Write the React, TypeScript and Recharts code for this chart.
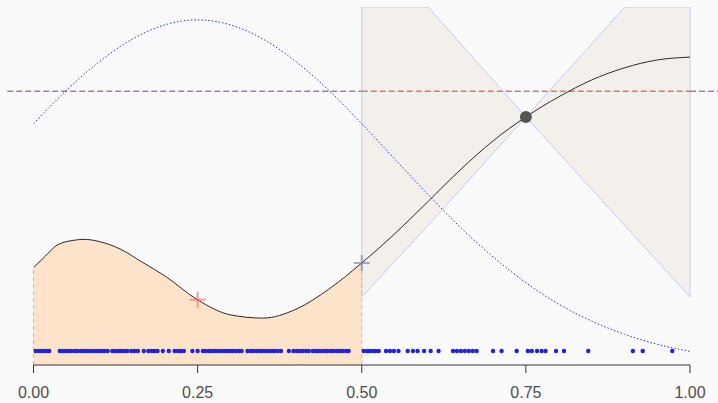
import React from 'react';
import {
  ComposedChart,
  Area,
  Line,
  Scatter,
  XAxis,
  YAxis,
  ReferenceLine
} from 'recharts';

// tick positions on the x axis
const xTicks = [0, 0.25, 0.5, 0.75, 1];

// fitted curve (black)
const curveX = [0, 0.018, 0.036, 0.06, 0.077, 0.1, 0.133, 0.165, 0.2, 0.25, 0.3, 0.35, 0.4, 0.45, 0.5, 0.55, 0.6, 0.65, 0.7, 0.75, 0.8, 0.85, 0.9, 0.95, 1];
const curveY = [0.272, 0.304, 0.335, 0.348, 0.351, 0.345, 0.323, 0.288, 0.249, 0.182, 0.14, 0.131, 0.156, 0.212, 0.285, 0.366, 0.455, 0.545, 0.626, 0.693, 0.749, 0.796, 0.83, 0.852, 0.86];

// blue dotted density curve
const densX = [0, 0.05, 0.1, 0.15, 0.2, 0.25, 0.3, 0.35, 0.4, 0.45, 0.5, 0.55, 0.6, 0.65, 0.7, 0.75, 0.8, 0.85, 0.9, 0.95, 1];
const densY = [0.674, 0.767, 0.847, 0.91, 0.95, 0.964, 0.95, 0.91, 0.847, 0.767, 0.674, 0.576, 0.478, 0.385, 0.302, 0.23, 0.17, 0.123, 0.086, 0.058, 0.038];

// cone band (grey)
const bandX = [0.5, 0.601, 0.75, 0.901, 1];
const bandLow = [0.19, 0.39, 0.693, 0.389, 0.19];
const bandHigh = [1, 1, 0.693, 1, 1];

// rug of observations
const rugX = [
  0.003, 0.008, 0.012, 0.017, 0.02, 0.024, 0.04, 0.044, 0.049, 0.053, 0.058, 0.063, 0.067,
  0.072, 0.076, 0.081, 0.085, 0.09, 0.095, 0.099, 0.104, 0.108, 0.113, 0.12, 0.125, 0.13,
  0.134, 0.139, 0.143, 0.149, 0.154, 0.159, 0.168, 0.175, 0.18, 0.184, 0.189, 0.197, 0.206,
  0.215, 0.22, 0.224, 0.229, 0.242, 0.25, 0.258, 0.262, 0.267, 0.271, 0.276, 0.28, 0.285,
  0.29, 0.294, 0.299, 0.303, 0.308, 0.313, 0.317, 0.326, 0.331, 0.335, 0.34, 0.345, 0.349,
  0.354, 0.358, 0.363, 0.367, 0.372, 0.377, 0.389, 0.396, 0.401, 0.405, 0.41, 0.415, 0.419,
  0.425, 0.43, 0.434, 0.439, 0.444, 0.448, 0.453, 0.457, 0.462, 0.466, 0.471, 0.476, 0.48,
  0.503, 0.508, 0.512, 0.517, 0.521, 0.526, 0.537, 0.543, 0.549, 0.556, 0.57, 0.578, 0.585,
  0.595, 0.605, 0.617, 0.639, 0.645, 0.651, 0.657, 0.663, 0.669, 0.675, 0.7, 0.713, 0.736,
  0.753, 0.759, 0.767, 0.774, 0.78, 0.796, 0.808, 0.845, 0.913, 0.928, 0.973
];
const rugLevel = 0.039;

// single marks
const hLevel = 0.765;
const centerPoint = [{ x: 0.75, y: 0.693 }];
const redCross = [{ x: 0.25, y: 0.182 }];
const greyCross = [{ x: 0.5, y: 0.285 }];

const curveData = curveX.map((x, i) => ({ x, y: curveY[i] }));
const shadeData = curveData.filter((d) => d.x <= 0.5);
const densData = densX.map((x, i) => ({ x, y: densY[i] }));
const bandData = bandX.map((x, i) => ({ x, range: [bandLow[i], bandHigh[i]] }));
const rugData = rugX.map((x) => ({ x, y: rugLevel }));

const makeCross = (color: string) => (props: any) => {
  const { cx, cy } = props;
  return (
    <g>
      <line x1={cx - 8} y1={cy} x2={cx + 8} y2={cy} stroke={color} strokeWidth={2} />
      <line x1={cx} y1={cy - 8} x2={cx} y2={cy + 8} stroke={color} strokeWidth={2} />
    </g>
  );
};

const RugDot = (props: any) => <circle cx={props.cx} cy={props.cy} r={2.2} fill="#1f1fe6" />;
const BigDot = (props: any) => <circle cx={props.cx} cy={props.cy} r={6} fill="#555555" />;

const App: React.FC = () => {
  return (
    <div style={{ position: 'absolute', left: 0, top: 0, width: 718, height: 403, background: '#fafafa' }}>
      <ComposedChart
        width={718}
        height={403}
        margin={{ top: 7, right: 28, bottom: 0, left: 33.5 }}
      >
        <XAxis
          dataKey="x"
          type="number"
          domain={[0, 1]}
          ticks={xTicks}
          interval={0}
          allowDataOverflow
          tickFormatter={(v) => v.toFixed(2)}
          axisLine={{ stroke: '#333333' }}
          tickLine={{ stroke: '#333333' }}
          tickSize={8}
          tickMargin={14}
          height={38}
          tick={{ fill: '#4d4d4d', fontSize: 16, fontFamily: 'Liberation Sans, Arial, sans-serif' }}
        />
        <YAxis dataKey="y" type="number" domain={[0, 1]} allowDataOverflow hide />

        <Area
          data={bandData}
          dataKey="range"
          type="linear"
          fill="#f3f0ec"
          fillOpacity={1}
          stroke="#c9c9f2"
          strokeWidth={1}
          isAnimationActive={false}
        />
        <ReferenceLine segment={[{ x: 0.5, y: bandLow[0] }, { x: 0.5, y: 1 }]} stroke="#c9c9f2" strokeWidth={1} />
        <ReferenceLine segment={[{ x: 1, y: bandLow[4] }, { x: 1, y: 1 }]} stroke="#c9c9f2" strokeWidth={1} />

        <Area
          data={shadeData}
          dataKey="y"
          type="monotone"
          baseValue={0}
          fill="#fee3cb"
          fillOpacity={1}
          stroke="none"
          isAnimationActive={false}
        />
        <ReferenceLine segment={[{ x: 0, y: 0 }, { x: 0, y: curveY[0] }]} stroke="#f3a5a5" strokeDasharray="4 3" />
        <ReferenceLine segment={[{ x: 0.5, y: 0 }, { x: 0.5, y: greyCross[0].y }]} stroke="#f3a5a5" strokeDasharray="4 3" />

        <ReferenceLine
          segment={[{ x: -0.04, y: hLevel }, { x: 0.5, y: hLevel }]}
          ifOverflow="visible"
          stroke="#9a7fae"
          strokeWidth={1.5}
          strokeDasharray="6 3"
        />
        <ReferenceLine
          segment={[{ x: 0.5, y: hLevel }, { x: 1, y: hLevel }]}
          stroke="#d9796c"
          strokeWidth={1.5}
          strokeDasharray="6 3"
        />
        <ReferenceLine
          segment={[{ x: 1, y: hLevel }, { x: 1.05, y: hLevel }]}
          ifOverflow="visible"
          stroke="#9a7fae"
          strokeWidth={1.5}
          strokeDasharray="6 3"
        />

        <Line
          data={densData}
          dataKey="y"
          type="monotone"
          stroke="#2b2bf0"
          strokeWidth={1}
          strokeDasharray="1.5 2"
          dot={false}
          isAnimationActive={false}
        />
        <Line
          data={curveData}
          dataKey="y"
          type="monotone"
          stroke="#2a2a2a"
          strokeWidth={1}
          dot={false}
          isAnimationActive={false}
        />

        <Scatter data={rugData} dataKey="y" shape={RugDot} isAnimationActive={false} />
        <Scatter data={redCross} dataKey="y" shape={makeCross('rgba(236,96,96,0.6)')} isAnimationActive={false} />
        <Scatter data={greyCross} dataKey="y" shape={makeCross('rgba(120,128,165,0.65)')} isAnimationActive={false} />
        <Scatter data={centerPoint} dataKey="y" shape={BigDot} isAnimationActive={false} />
      </ComposedChart>
    </div>
  );
};

export default App;
